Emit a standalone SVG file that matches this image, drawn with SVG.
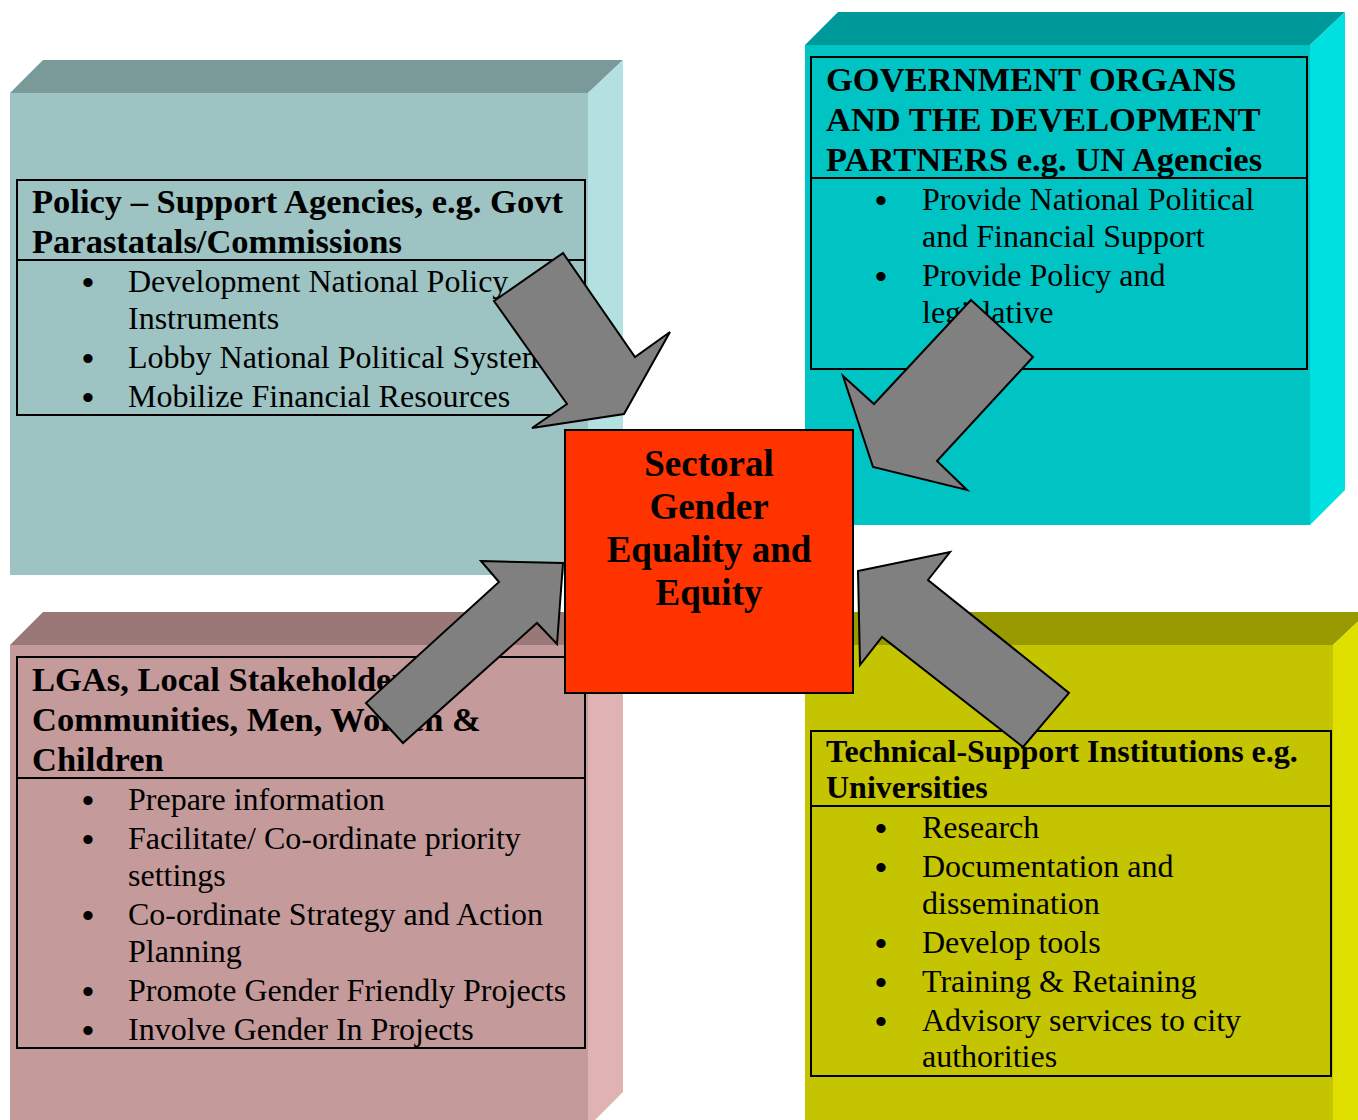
<svg xmlns="http://www.w3.org/2000/svg" width="1358" height="1120" viewBox="0 0 1358 1120">
<style>
.t{font-family:"Liberation Serif","Times New Roman",serif;font-weight:bold;font-size:34.5px;fill:#000}
.t2{font-family:"Liberation Serif","Times New Roman",serif;font-weight:bold;font-size:32px;fill:#000}
.b{font-family:"Liberation Serif","Times New Roman",serif;font-size:32px;fill:#000}
.d{font-family:"Liberation Sans",Arial,sans-serif;font-size:34px;fill:#000;text-anchor:middle}
.c{font-family:"Liberation Serif","Times New Roman",serif;font-weight:bold;font-size:37px;fill:#000;text-anchor:middle}
.frame{fill:none;stroke:#000;stroke-width:2}
.arrow{fill:#808080;stroke:#000;stroke-width:2;stroke-linejoin:miter}
</style>
<rect width="1358" height="1120" fill="#fff"/>

<g id="policy-support">
<polygon points="10,93 43,60 623,60 588,93" fill="#7A9999"/>
<polygon points="588,93 623,60 623,540 588,575" fill="#B3E0E0"/>
<rect x="10" y="93" width="578" height="482" fill="#9DC3C3"/>
<rect class="frame" x="17" y="180" width="568" height="235"/>
<line x1="17" y1="260" x2="585" y2="260" stroke="#000" stroke-width="2"/>
<text class="t" x="32" y="213">Policy – Support Agencies, e.g. Govt</text>
<text class="t" x="32" y="253">Parastatals/Commissions</text>
<text class="d" x="88" y="294">•</text><text class="b" x="128" y="292">Development National Policy</text>
<text class="b" x="128" y="329">Instruments</text>
<text class="d" x="88" y="370">•</text><text class="b" x="128" y="368">Lobby National Political System</text>
<text class="d" x="88" y="409">•</text><text class="b" x="128" y="407">Mobilize Financial Resources</text>
</g>

<g id="government-organs">
<polygon points="805,45 838,12 1345,12 1310,45" fill="#009999"/>
<polygon points="1310,45 1345,12 1345,490 1310,525" fill="#00E0E0"/>
<rect x="805" y="45" width="505" height="480" fill="#00C4C4"/>
<rect class="frame" x="811" y="57" width="496" height="312"/>
<line x1="811" y1="178" x2="1307" y2="178" stroke="#000" stroke-width="2"/>
<text class="t" x="826" y="91">GOVERNMENT ORGANS</text>
<text class="t" x="826" y="131">AND THE DEVELOPMENT</text>
<text class="t" x="826" y="171">PARTNERS e.g. UN Agencies</text>
<text class="d" x="881" y="212">•</text><text class="b" x="922" y="210">Provide National Political</text>
<text class="b" x="922" y="247">and Financial Support</text>
<text class="d" x="881" y="288">•</text><text class="b" x="922" y="286">Provide Policy and</text>
<text class="b" x="922" y="323">legislative</text>
</g>

<g id="lgas">
<polygon points="10,645 43,612 623,612 588,645" fill="#9A7878"/>
<polygon points="588,645 623,612 623,1092 588,1127" fill="#E0B3B3"/>
<rect x="10" y="645" width="578" height="480" fill="#C49A9A"/>
<rect class="frame" x="17" y="657" width="568" height="391"/>
<line x1="17" y1="778" x2="585" y2="778" stroke="#000" stroke-width="2"/>
<text class="t" x="32" y="691">LGAs, Local Stakeholders,</text>
<text class="t" x="32" y="731">Communities, Men, Women &amp;</text>
<text class="t" x="32" y="771">Children</text>
<text class="d" x="88" y="812">•</text><text class="b" x="128" y="810">Prepare information</text>
<text class="d" x="88" y="851">•</text><text class="b" x="128" y="849">Facilitate/ Co-ordinate priority</text>
<text class="b" x="128" y="886">settings</text>
<text class="d" x="88" y="927">•</text><text class="b" x="128" y="925">Co-ordinate Strategy and Action</text>
<text class="b" x="128" y="962">Planning</text>
<text class="d" x="88" y="1003">•</text><text class="b" x="128" y="1001">Promote Gender Friendly Projects</text>
<text class="d" x="88" y="1042">•</text><text class="b" x="128" y="1040">Involve Gender In Projects</text>
</g>

<g id="technical-support">
<polygon points="805,645 838,612 1368,612 1333,645" fill="#999900"/>
<polygon points="1333,645 1368,612 1368,1120 1333,1120" fill="#E0E000"/>
<rect x="805" y="645" width="528" height="480" fill="#C4C400"/>
<rect class="frame" x="811" y="731" width="520" height="345"/>
<line x1="811" y1="806" x2="1331" y2="806" stroke="#000" stroke-width="2"/>
<text class="t2" x="826" y="762">Technical-Support Institutions e.g.</text>
<text class="t2" x="826" y="798">Universities</text>
<text class="d" x="881" y="840">•</text><text class="b" x="922" y="838">Research</text>
<text class="d" x="881" y="879">•</text><text class="b" x="922" y="877">Documentation and</text>
<text class="b" x="922" y="914">dissemination</text>
<text class="d" x="881" y="955">•</text><text class="b" x="922" y="953">Develop tools</text>
<text class="d" x="881" y="994">•</text><text class="b" x="922" y="992">Training &amp; Retaining</text>
<text class="d" x="881" y="1033">•</text><text class="b" x="922" y="1031">Advisory services to city</text>
<text class="b" x="922" y="1067">authorities</text>
</g>

<g id="center">
<rect x="565" y="430" width="288" height="263" fill="#FF3300" stroke="#000" stroke-width="2"/>
<text class="c" x="709" y="476">Sectoral</text>
<text class="c" x="709" y="519">Gender</text>
<text class="c" x="709" y="562">Equality and</text>
<text class="c" x="709" y="605">Equity</text>
</g>

<g id="connectors">
<polygon class="arrow" points="563,253 494,301 567,404 532,428 624,414 670,332 635,357"/>
<polygon class="arrow" points="971,300 1033,357 937,461 967,490 873,467 843,376 874,404"/>
<polygon class="arrow" points="481,561 563,563 557,644 537,623 403,743 366,703 499,582"/>
<polygon class="arrow" points="858,571 950,552 928,580 1069,693 1023,747 882,637 860,665"/>
</g>
</svg>
